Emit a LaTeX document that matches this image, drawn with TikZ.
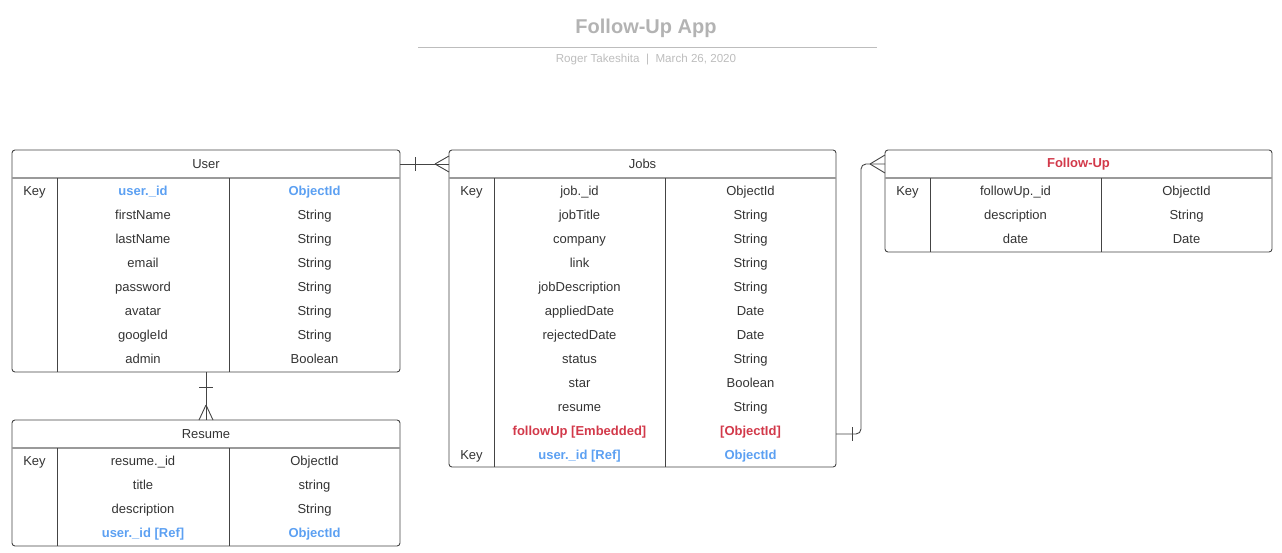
\documentclass[tikz,border=0pt]{standalone}
\usepackage{fontspec}
\setmainfont{Liberation Sans}
\usetikzlibrary{calc}
\definecolor{bord}{HTML}{444444}
\definecolor{sep}{HTML}{9A9A9A}
\definecolor{refblue}{HTML}{5CA0F2}
\definecolor{embred}{HTML}{D2394A}
\definecolor{titlegray}{HTML}{B3B3B3}
\definecolor{subgray}{HTML}{BDBDBD}
\definecolor{txt}{HTML}{333333}
\begin{document}
\begin{tikzpicture}[x=1pt,y=-1pt,
  tbl/.style={draw=bord, line width=0.9pt, rounded corners=3pt, inner sep=0pt, outer sep=0pt, rectangle},
  hdr/.style={inner sep=0pt, outer sep=0pt, minimum height=28pt, font=\fontsize{13}{15}\selectfont, text=txt},
  cell/.style={inner sep=0pt, text height=10pt, text depth=3pt, yshift=-2pt, font=\fontsize{13}{15}\selectfont, text=txt},
  refcell/.style={cell, text=refblue, font=\fontsize{13}{15}\selectfont\bfseries},
  embcell/.style={cell, text=embred, font=\fontsize{13}{15}\selectfont\bfseries},
  hsep/.style={draw=sep, line width=1.5pt},
  csep/.style={draw=bord, line width=0.8pt},
  conn/.style={draw=bord, line width=0.9pt},
]
\useasboundingbox (0,0) rectangle (1282,552);

% ---------- title ----------
\node[font=\fontsize{20}{24}\selectfont\bfseries, text=titlegray] (title) at (646,28.5) {Follow-Up App};
\draw[draw=subgray, line width=1pt] (418,47) -- (877,47);
\node[font=\fontsize{11.6}{13}\selectfont, text=subgray] (subtitle) at (646,60) {Roger Takeshita \ | \ March 26, 2020};

% ---------- User ----------
\node[tbl, minimum width=388pt, minimum height=222pt] (user) at (206,261) {};
\node[hdr, minimum width=388pt] (userH) at (206,164) {User};
\draw[hsep] (userH.south west) -- (userH.south east);
\draw[csep] (57,178) -- (57,372);
\draw[csep] (229,178) -- (229,372);
\node[cell] (userK) at (34.5,190) {Key};
\node[refcell] (userN0) at (143,190) {user.\_id};
\node[refcell] (userT0) at (314.5,190) {ObjectId};
\foreach \n/\t [count=\i] in {firstName/String,lastName/String,email/String,password/String,avatar/String,googleId/String,admin/Boolean}{
  \node[cell] (userN\i) at (143,{190+24*\i}) {\n};
  \node[cell] (userT\i) at (314.5,{190+24*\i}) {\t};
}

% ---------- Resume ----------
\node[tbl, minimum width=388pt, minimum height=126pt] (resume) at (206,483) {};
\node[hdr, minimum width=388pt] (resumeH) at (206,434) {Resume};
\draw[hsep] (resumeH.south west) -- (resumeH.south east);
\draw[csep] (57,448) -- (57,546);
\draw[csep] (229,448) -- (229,546);
\node[cell] (resumeK) at (34.5,460) {Key};
\foreach \n/\t [count=\i from 0] in {resume.\_id/ObjectId,title/string,description/String}{
  \node[cell] (resumeN\i) at (143,{460+24*\i}) {\n};
  \node[cell] (resumeT\i) at (314.5,{460+24*\i}) {\t};
}
\node[refcell] (resumeN3) at (143,532) {user.\_id [Ref]};
\node[refcell] (resumeT3) at (314.5,532) {ObjectId};

% ---------- Jobs ----------
\node[tbl, minimum width=387pt, minimum height=317pt] (jobs) at (642.5,308.5) {};
\node[hdr, minimum width=387pt] (jobsH) at (642.5,164) {Jobs};
\draw[hsep] (jobsH.south west) -- (jobsH.south east);
\draw[csep] (494,178) -- (494,467);
\draw[csep] (665,178) -- (665,467);
\node[cell] (jobsK) at (471.5,190) {Key};
\foreach \n/\t [count=\i from 0] in {job.\_id/ObjectId,jobTitle/String,company/String,link/String,jobDescription/String,appliedDate/Date,rejectedDate/Date,status/String,star/Boolean,resume/String}{
  \node[cell] (jobsN\i) at (579.5,{190+24*\i}) {\n};
  \node[cell] (jobsT\i) at (750.5,{190+24*\i}) {\t};
}
\node[embcell] (jobsN10) at (579.5,430) {followUp [Embedded]};
\node[embcell] (jobsT10) at (750.5,430) {[ObjectId]};
\node[cell] (jobsK2) at (471.5,454) {Key};
\node[refcell] (jobsN11) at (579.5,454) {user.\_id [Ref]};
\node[refcell] (jobsT11) at (750.5,454) {ObjectId};

% ---------- Follow-Up ----------
\node[tbl, minimum width=387pt, minimum height=102pt] (fu) at (1078.5,201) {};
\node[hdr, minimum width=387pt, text=embred, font=\fontsize{13}{15}\selectfont\bfseries] (fuH) at (1078.5,164) {Follow-Up};
\draw[hsep] (fuH.south west) -- (fuH.south east);
\draw[csep] (930,178) -- (930,252);
\draw[csep] (1101,178) -- (1101,252);
\node[cell] (fuK) at (907.5,190) {Key};
\foreach \n/\t [count=\i from 0] in {followUp.\_id/ObjectId,description/String,date/Date}{
  \node[cell] (fuN\i) at (1015.5,{190+24*\i}) {\n};
  \node[cell] (fuT\i) at (1186.5,{190+24*\i}) {\t};
}

% ---------- connectors ----------
% User -- Jobs (one to many)
\draw[conn] (userH.east) -- (jobsH.west);
\draw[conn] ($(userH.east)+(15,-7)$) -- ++(0,14);
\draw[conn] ($(jobsH.west)+(-14,0)$) -- ++(14,-8);
\draw[conn] ($(jobsH.west)+(-14,0)$) -- ++(14,8);

% User -- Resume
\draw[conn] (user.south) -- (resumeH.north);
\draw[conn] ($(user.south)+(-7,15)$) -- ++(14,0);
\draw[conn] ($(resumeH.north)+(0,-15)$) -- ++(-7,15);
\draw[conn] ($(resumeH.north)+(0,-15)$) -- ++(7,15);

% Jobs -- Follow-Up
\coordinate (jfu) at ($(jobs.east |- jobsN10)+(0,2)$);
\draw[conn, rounded corners=5pt] (jfu) -- ++(25,0) |- (fuH.west);
\draw[conn] ($(jfu)+(16,-7)$) -- ++(0,14);
\draw[conn] ($(fuH.west)+(-15,0)$) -- ++(15,-9);
\draw[conn] ($(fuH.west)+(-15,0)$) -- ++(15,9);
\end{tikzpicture}
\end{document}
